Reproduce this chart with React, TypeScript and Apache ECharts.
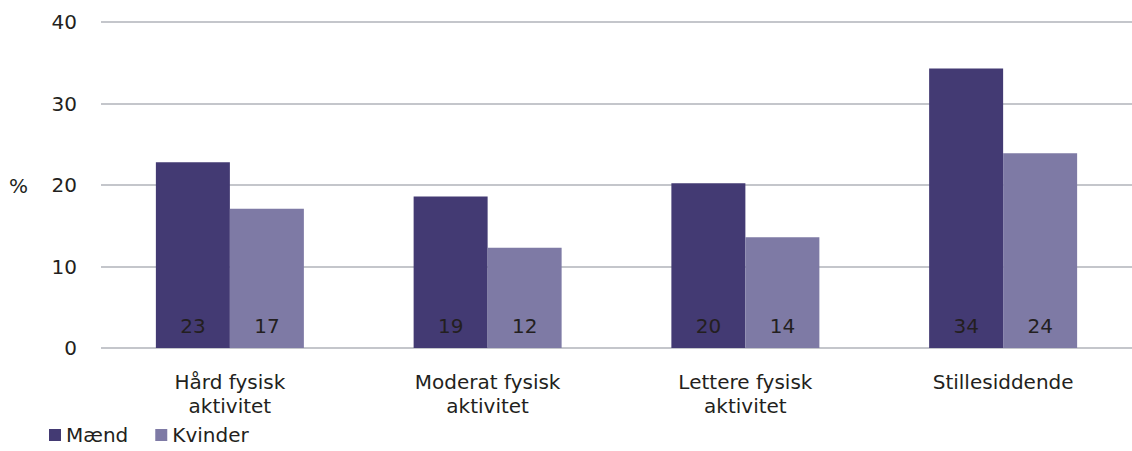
import React, { useEffect, useRef } from "react";
import * as echarts from "echarts";

const categories = ["Hård fysisk\naktivitet", "Moderat fysisk\naktivitet", "Lettere fysisk\naktivitet", "Stillesiddende"];
const seriesNames = ["Mænd", "Kvinder"];
const maend = [22.8, 18.6, 20.2, 34.3];
const kvinder = [17.1, 12.3, 13.6, 23.9];
const colors = ["#433a73", "#7e7aa5"];

export default function App() {
  const ref = useRef<HTMLDivElement>(null);
  useEffect(() => {
    document.body.style.margin = "0";
    const chart = echarts.init(ref.current!, null, { renderer: "svg" });
    const font = "'DejaVu Sans', Verdana, sans-serif";
    const textColor = "#231f20";
    chart.setOption({
      animation: false,
      textStyle: { fontFamily: font },
      grid: { left: 101, width: 1034, top: 22, bottom: 103, containLabel: false },
      legend: {
        left: 49,
        top: 424,
        padding: 0,
        itemWidth: 12,
        itemHeight: 12,
        itemGap: 27,
        icon: "rect",
        textStyle: { fontFamily: font, fontSize: 20, color: textColor, lineHeight: 22 },
        data: seriesNames,
      },
      graphic: [
        {
          type: "text",
          left: 9,
          top: 176,
          style: { text: "%", fontFamily: font, fontSize: 20, fill: textColor },
        },
      ],
      xAxis: {
        type: "category",
        data: categories,
        axisLine: { show: false },
        axisTick: { show: false },
        axisLabel: {
          fontFamily: font,
          fontSize: 20,
          color: textColor,
          lineHeight: 24,
          margin: 22,
          interval: 0,
        },
      },
      yAxis: {
        type: "value",
        min: 0,
        max: 40,
        interval: 10,
        axisLine: { show: false },
        axisTick: { show: false },
        axisLabel: { fontFamily: font, fontSize: 20, color: textColor, margin: 24 },
        splitLine: { lineStyle: { color: "#c4c6cb", width: 2 } },
      },
      series: [
        { name: seriesNames[0], data: maend, color: colors[0] },
        { name: seriesNames[1], data: kvinder, color: colors[1] },
      ].map((s) => ({
        type: "bar",
        name: s.name,
        data: s.data,
        barWidth: 74,
        barGap: "0%",
        itemStyle: { color: s.color },
        label: {
          show: true,
          position: "insideBottom",
          distance: 12,
          fontFamily: font,
          fontSize: 20,
          color: textColor,
          formatter: (p: any) => String(Math.round(p.value)),
        },
      })),
    });
    return () => chart.dispose();
  }, []);
  return <div ref={ref} style={{ width: 1132, height: 451 }} />;
}
